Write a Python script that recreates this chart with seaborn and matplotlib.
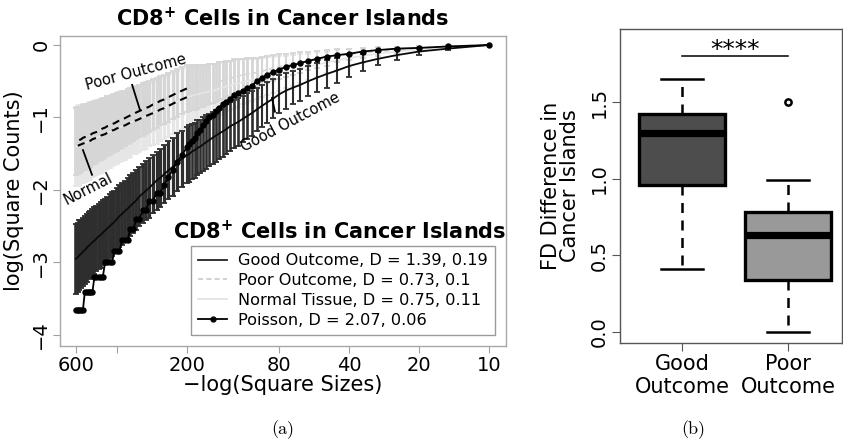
import numpy as np
import pandas as pd
import matplotlib
matplotlib.use("Agg")
import matplotlib.pyplot as plt
import seaborn as sns
from matplotlib.lines import Line2D
from matplotlib.ticker import NullLocator

# ---------------- data ----------------
sizes = [600, 590, 580, 570, 560, 550, 540, 530, 520, 510,
         500, 490, 480, 470, 460, 450, 440, 430, 420, 410,
         400, 390, 380, 370, 360, 350, 340, 330, 320, 310,
         300, 290, 280, 270, 260, 250, 240, 230, 220, 210,
         200,
         195, 190, 185, 180, 175, 170, 165, 160, 155, 150,
         145, 140, 135, 130, 125, 120, 115, 110, 105, 100,
         95, 90, 85, 80, 75, 70, 65, 60, 55, 50,
         45, 40, 35, 30, 25, 20, 15, 10]

good_mean = [-2.95, -2.93, -2.90, -2.88, -2.85, -2.83, -2.80, -2.77, -2.75, -2.72,
             -2.70, -2.67, -2.64, -2.62, -2.59, -2.56, -2.53, -2.50, -2.47, -2.44,
             -2.40, -2.36, -2.33, -2.29, -2.26, -2.22, -2.18, -2.14, -2.09, -2.05,
             -2.01, -1.97, -1.92, -1.87, -1.83, -1.78, -1.73, -1.68, -1.62, -1.57,
             -1.52,
             -1.50, -1.47, -1.45, -1.42, -1.40, -1.37, -1.34, -1.31, -1.28, -1.25,
             -1.22, -1.19, -1.16, -1.12, -1.09, -1.06, -1.02, -0.98, -0.94, -0.89,
             -0.84, -0.79, -0.74, -0.68, -0.63, -0.59, -0.55, -0.50, -0.45, -0.40,
             -0.35, -0.29, -0.24, -0.19, -0.14, -0.09, -0.05, 0.00]
good_err = [0.48, 0.48, 0.48, 0.47, 0.47, 0.47, 0.47, 0.46, 0.46, 0.46,
            0.46, 0.45, 0.45, 0.45, 0.45, 0.44, 0.44, 0.44, 0.44, 0.43,
            0.43, 0.43, 0.43, 0.42, 0.42, 0.42, 0.42, 0.41, 0.41, 0.41,
            0.41, 0.41, 0.40, 0.40, 0.40, 0.40, 0.40, 0.40, 0.40, 0.39,
            0.39,
            0.39, 0.38, 0.38, 0.38, 0.37, 0.37, 0.37, 0.36, 0.36, 0.36,
            0.35, 0.35, 0.34, 0.34, 0.33, 0.33, 0.32, 0.32, 0.31, 0.30,
            0.29, 0.28, 0.27, 0.26, 0.25, 0.23, 0.22, 0.21, 0.20, 0.19,
            0.17, 0.15, 0.12, 0.09, 0.065, 0.045, 0.025, 0.0]

poor_mean = [-1.33, -1.32, -1.31, -1.30, -1.28, -1.27, -1.26, -1.25, -1.24, -1.22,
             -1.21, -1.20, -1.18, -1.17, -1.15, -1.14, -1.12, -1.11, -1.09, -1.08,
             -1.06, -1.04, -1.03, -1.01, -0.99, -0.97, -0.95, -0.93, -0.91, -0.89,
             -0.87, -0.85, -0.82, -0.80, -0.77, -0.75, -0.72, -0.69, -0.66, -0.63,
             -0.60,
             -0.60, -0.59, -0.59, -0.58, -0.57, -0.56, -0.55, -0.54, -0.53, -0.52,
             -0.50, -0.49, -0.47, -0.46, -0.44, -0.43, -0.41, -0.40, -0.39, -0.38,
             -0.36, -0.34, -0.32, -0.30, -0.28, -0.26, -0.24, -0.22, -0.20, -0.18,
             -0.15, -0.13, -0.11, -0.09, -0.07, -0.04, -0.02, 0.00]
poor_err = [0.46, 0.46, 0.46, 0.45, 0.45, 0.45, 0.44, 0.44, 0.44, 0.43,
            0.43, 0.43, 0.42, 0.42, 0.42, 0.41, 0.41, 0.41, 0.40, 0.40,
            0.40, 0.39, 0.39, 0.38, 0.38, 0.38, 0.37, 0.37, 0.36, 0.36,
            0.36, 0.35, 0.35, 0.35, 0.34, 0.34, 0.34, 0.33, 0.33, 0.32,
            0.32,
            0.31, 0.31, 0.30, 0.30, 0.29, 0.29, 0.28, 0.28, 0.27, 0.26,
            0.26, 0.25, 0.25, 0.24, 0.24, 0.23, 0.22, 0.22, 0.21, 0.20,
            0.19, 0.19, 0.18, 0.17, 0.16, 0.15, 0.14, 0.13, 0.12, 0.11,
            0.09, 0.08, 0.07, 0.06, 0.04, 0.03, 0.02, 0.00]

normal_mean = [-1.40, -1.39, -1.38, -1.37, -1.36, -1.35, -1.34, -1.33, -1.32, -1.30,
               -1.29, -1.28, -1.27, -1.25, -1.24, -1.23, -1.21, -1.20, -1.18, -1.17,
               -1.15, -1.14, -1.12, -1.11, -1.09, -1.07, -1.05, -1.04, -1.02, -1.00,
               -0.98, -0.96, -0.94, -0.92, -0.89, -0.87, -0.84, -0.81, -0.78, -0.75,
               -0.72,
               -0.71, -0.70, -0.69, -0.68, -0.67, -0.66, -0.65, -0.64, -0.63, -0.62,
               -0.60, -0.59, -0.57, -0.56, -0.54, -0.53, -0.51, -0.50, -0.48, -0.47,
               -0.45, -0.43, -0.41, -0.39, -0.37, -0.35, -0.32, -0.30, -0.27, -0.24,
               -0.21, -0.18, -0.15, -0.12, -0.09, -0.06, -0.03, 0.00]
normal_err = [0.55, 0.55, 0.55, 0.54, 0.54, 0.54, 0.53, 0.53, 0.53, 0.52,
              0.52, 0.52, 0.51, 0.51, 0.51, 0.50, 0.50, 0.50, 0.49, 0.49,
              0.49, 0.48, 0.48, 0.47, 0.47, 0.47, 0.46, 0.46, 0.45, 0.45,
              0.45, 0.44, 0.44, 0.44, 0.43, 0.43, 0.43, 0.42, 0.42, 0.42,
              0.42,
              0.41, 0.41, 0.40, 0.40, 0.39, 0.39, 0.38, 0.38, 0.37, 0.36,
              0.36, 0.35, 0.34, 0.34, 0.33, 0.32, 0.31, 0.30, 0.29, 0.28,
              0.27, 0.26, 0.25, 0.24, 0.22, 0.21, 0.20, 0.18, 0.17, 0.15,
              0.14, 0.12, 0.10, 0.08, 0.06, 0.04, 0.02, 0.00]

poisson = [-3.65, -3.65, -3.65, -3.65, -3.65, -3.41, -3.41, -3.41, -3.41, -3.41,
           -3.20, -3.20, -3.20, -3.20, -3.20, -3.00, -3.00, -3.00, -3.00, -2.84,
           -2.84, -2.84, -2.69, -2.69, -2.69, -2.54, -2.54, -2.40, -2.40, -2.28,
           -2.28, -2.15, -2.15, -2.04, -2.04, -1.93, -1.82, -1.72, -1.61, -1.52,
           -1.41,
           -1.37, -1.32, -1.28, -1.22, -1.17, -1.10, -1.05, -1.00, -0.96, -0.91,
           -0.87, -0.82, -0.78, -0.74, -0.69, -0.66, -0.63, -0.60, -0.56, -0.50,
           -0.45, -0.41, -0.37, -0.34, -0.30, -0.28, -0.25, -0.22, -0.19, -0.16,
           -0.14, -0.12, -0.09, -0.07, -0.05, -0.04, -0.02, 0.00]

legend_labels = ["Good Outcome, D = 1.39, 0.19",
                 "Poor Outcome, D = 0.73, 0.1",
                 "Normal Tissue, D = 0.75, 0.11",
                 "Poisson, D = 2.07, 0.06"]

x_ticks = [600, 400, 200, 80, 40, 20, 10]
x_ticklabels = ["600", "", "200", "80", "40", "20", "10"]
y_ticks = [0, -1, -2, -3, -4]
y_ticklabels = ["0", "\u22121", "\u22122", "\u22123", "\u22124"]

box_groups = ["Good\nOutcome", "Poor\nOutcome"]
good_fd = [0.41, 0.75, 0.96, 1.15, 1.30, 1.36, 1.42, 1.55, 1.65]
poor_fd = [0.00, 0.20, 0.34, 0.50, 0.63, 0.70, 0.78, 0.99, 1.50]
box_yticks = [0.0, 0.5, 1.0, 1.5]
box_yticklabels = ["0.0", "0.5", "1.0", "1.5"]

TITLE = r"CD8$^{\mathbf{+}}$ Cells in Cancer Islands"

# ---------------- figure ----------------
plt.rcParams["font.family"] = ["DejaVu Sans"]
plt.rcParams["mathtext.fontset"] = "dejavusans"
fig = plt.figure(figsize=(8.43, 4.44), dpi=100)

df = pd.DataFrame({"size": sizes, "good": good_mean, "good_err": good_err,
                   "poor": poor_mean, "poor_err": poor_err,
                   "normal": normal_mean, "normal_err": normal_err,
                   "poisson": poisson})

ax = fig.add_axes([0.0712, 0.2207, 0.5291, 0.6982])
ax.set_xscale("log")

light_n = "#e6e6e6"
light_p = "#d6d6d6"
dark = "#2e2e2e"

# bar stroke width: wider where the bars are tightly packed (styling only)
size_arr = np.asarray(sizes, dtype=float)
bar_lw = np.where(size_arr >= 300, 2.6, np.where(size_arr >= 200, 2.3,
                  np.where(size_arr >= 100, 1.9, 1.5)))


def bars(x, y, err, color, z):
    cont = ax.errorbar(x, y, yerr=err, fmt="none", ecolor=color,
                       elinewidth=1.5, capsize=2.2, capthick=1.3, zorder=z)
    for coll in cont.lines[2]:
        coll.set_linewidths(bar_lw)
    return cont


# light (normal / poor) error bars
bars(df["size"], df["normal"], df["normal_err"], light_n, 1)
bars(df["size"], df["poor"], df["poor_err"], light_p, 1.1)
sns.lineplot(data=df, x="size", y="normal", color=light_n, lw=1.2,
             errorbar=None, ax=ax, zorder=1.2)
sns.lineplot(data=df, x="size", y="poor", color=light_p, lw=1.2,
             linestyle=(0, (3, 2)), errorbar=None, ax=ax, zorder=1.2)

# good outcome error bars + mean
bars(df["size"], df["good"], df["good_err"], dark, 2)
sns.lineplot(data=df, x="size", y="good", color="#0a0a0a", lw=1.3,
             errorbar=None, ax=ax, zorder=3)

# poisson
sns.lineplot(data=df, x="size", y="poisson", color="black", lw=1.3,
             marker="o", markersize=4.6, markeredgewidth=0,
             errorbar=None, ax=ax, zorder=4)

# black dashed mean segments for poor / normal at large square sizes
sub = df[df["size"] >= 200]
sns.lineplot(data=sub, x="size", y="poor", color="black", lw=1.5,
             linestyle=(0, (3.5, 2.5)), errorbar=None, ax=ax, zorder=5)
sns.lineplot(data=sub, x="size", y="normal", color="black", lw=1.5,
             linestyle=(0, (3.5, 2.5)), errorbar=None, ax=ax, zorder=5)

ax.set_xlim(703, 8.45)
ax.set_ylim(-4.152, 0.124)
ax.set_xticks(x_ticks)
ax.set_xticklabels(x_ticklabels)
ax.xaxis.set_minor_locator(NullLocator())
ax.set_yticks(y_ticks)
ax.set_yticklabels(y_ticklabels)
ax.tick_params(axis="y", labelrotation=90, labelsize=14, length=5,
               color="#a0a0a0", pad=2)
ax.tick_params(axis="x", labelsize=14, length=5, color="#a0a0a0", pad=2)
for lab in ax.get_yticklabels():
    lab.set_va("center")
for sp in ax.spines.values():
    sp.set_color("#a8a8a8")
    sp.set_linewidth(1.0)
ax.set_xlabel("\u2212log(Square Sizes)", fontsize=15, labelpad=0)
ax.set_ylabel("log(Square Counts)", fontsize=15, labelpad=5)
ax.set_title(TITLE, fontsize=15, fontweight="bold", pad=7)

# annotations
ax.text(331, -0.37, "Poor Outcome", fontsize=10.5, rotation=15,
        ha="center", va="center", rotation_mode="anchor", zorder=6)
ax.plot([344, 318], [-0.55, -0.90], color="black", lw=1.3, zorder=6)
ax.text(532, -1.98, "Normal", fontsize=10.5, rotation=27,
        ha="center", va="center", rotation_mode="anchor", zorder=6)
ax.plot([560, 512], [-1.45, -1.79], color="black", lw=1.3, zorder=6)
ax.text(72, -1.06, "Good Outcome", fontsize=10.5, rotation=28,
        ha="center", va="center", rotation_mode="anchor", zorder=6)
ax.plot([86, 83.5], [-0.73, -0.92], color="black", lw=1.3, zorder=6)

# legend
handles = [Line2D([], [], color="#222222", lw=1.3),
           Line2D([], [], color="#c8c8c8", lw=1.2, linestyle=(0, (3, 2))),
           Line2D([], [], color="#e0e0e0", lw=1.2),
           Line2D([], [], color="black", lw=1.3, marker="o", markersize=3.5)]
leg = ax.legend(handles, legend_labels, loc="lower right",
                bbox_to_anchor=(0.975, 0.0355), borderaxespad=0,
                fontsize=11.6, handlelength=1.75, handletextpad=0.7,
                labelspacing=0.3, borderpad=0.45, fancybox=False,
                framealpha=1, edgecolor="#9a9a9a")
leg.get_frame().set_linewidth(1.0)
leg.set_zorder(10)
ax.text(0.627, 0.368, TITLE, transform=ax.transAxes, fontsize=15,
        fontweight="bold", ha="center", va="center", zorder=11)

# ---------------- right panel: boxplot ----------------
ax2 = fig.add_axes([0.7355, 0.2275, 0.2633, 0.7072])
box_df = pd.DataFrame({"group": [box_groups[0]] * len(good_fd) + [box_groups[1]] * len(poor_fd),
                       "fd": good_fd + poor_fd})
sns.boxplot(data=box_df, x="group", y="fd", hue="group", order=box_groups,
            hue_order=box_groups, palette=["#4d4d4d", "#999999"], legend=False,
            width=0.81, linecolor="black", linewidth=2.4, whis=1.5, ax=ax2,
            medianprops=dict(linewidth=5.2, color="black"),
            whiskerprops=dict(linestyle=(0, (4, 3)), linewidth=1.8),
            capprops=dict(linewidth=1.8),
            flierprops=dict(marker="o", markerfacecolor="white",
                            markeredgecolor="black", markeredgewidth=1.8,
                            markersize=4.5))
ax2.set_xlim(-0.585, 1.51)
ax2.set_ylim(-0.0718, 1.977)
ax2.set_yticks(box_yticks)
ax2.set_yticklabels(box_yticklabels)
ax2.tick_params(axis="y", labelrotation=90, labelsize=14, length=6,
                color="#555555", pad=2)
ax2.tick_params(axis="x", labelsize=15, length=6, color="#555555", pad=2)
for lab in ax2.get_yticklabels():
    lab.set_va("center")
for sp in ax2.spines.values():
    sp.set_color("#555555")
    sp.set_linewidth(1.0)
ax2.set_xlabel("")
ax2.set_ylabel("FD Difference in\nCancer Islands", fontsize=15,
               linespacing=0.95, labelpad=7)
ax2.plot([0, 1], [1.80, 1.80], color="black", lw=1.1)
ax2.text(0.5, 1.795, "****", fontsize=18, ha="center", va="baseline")

fig.text(0.336, 0.0315, "(a)", family="cmr10", fontsize=13, ha="center", va="center")
fig.text(0.822, 0.0315, "(b)", family="cmr10", fontsize=13, ha="center", va="center")

fig.savefig("out.png", dpi=100)
